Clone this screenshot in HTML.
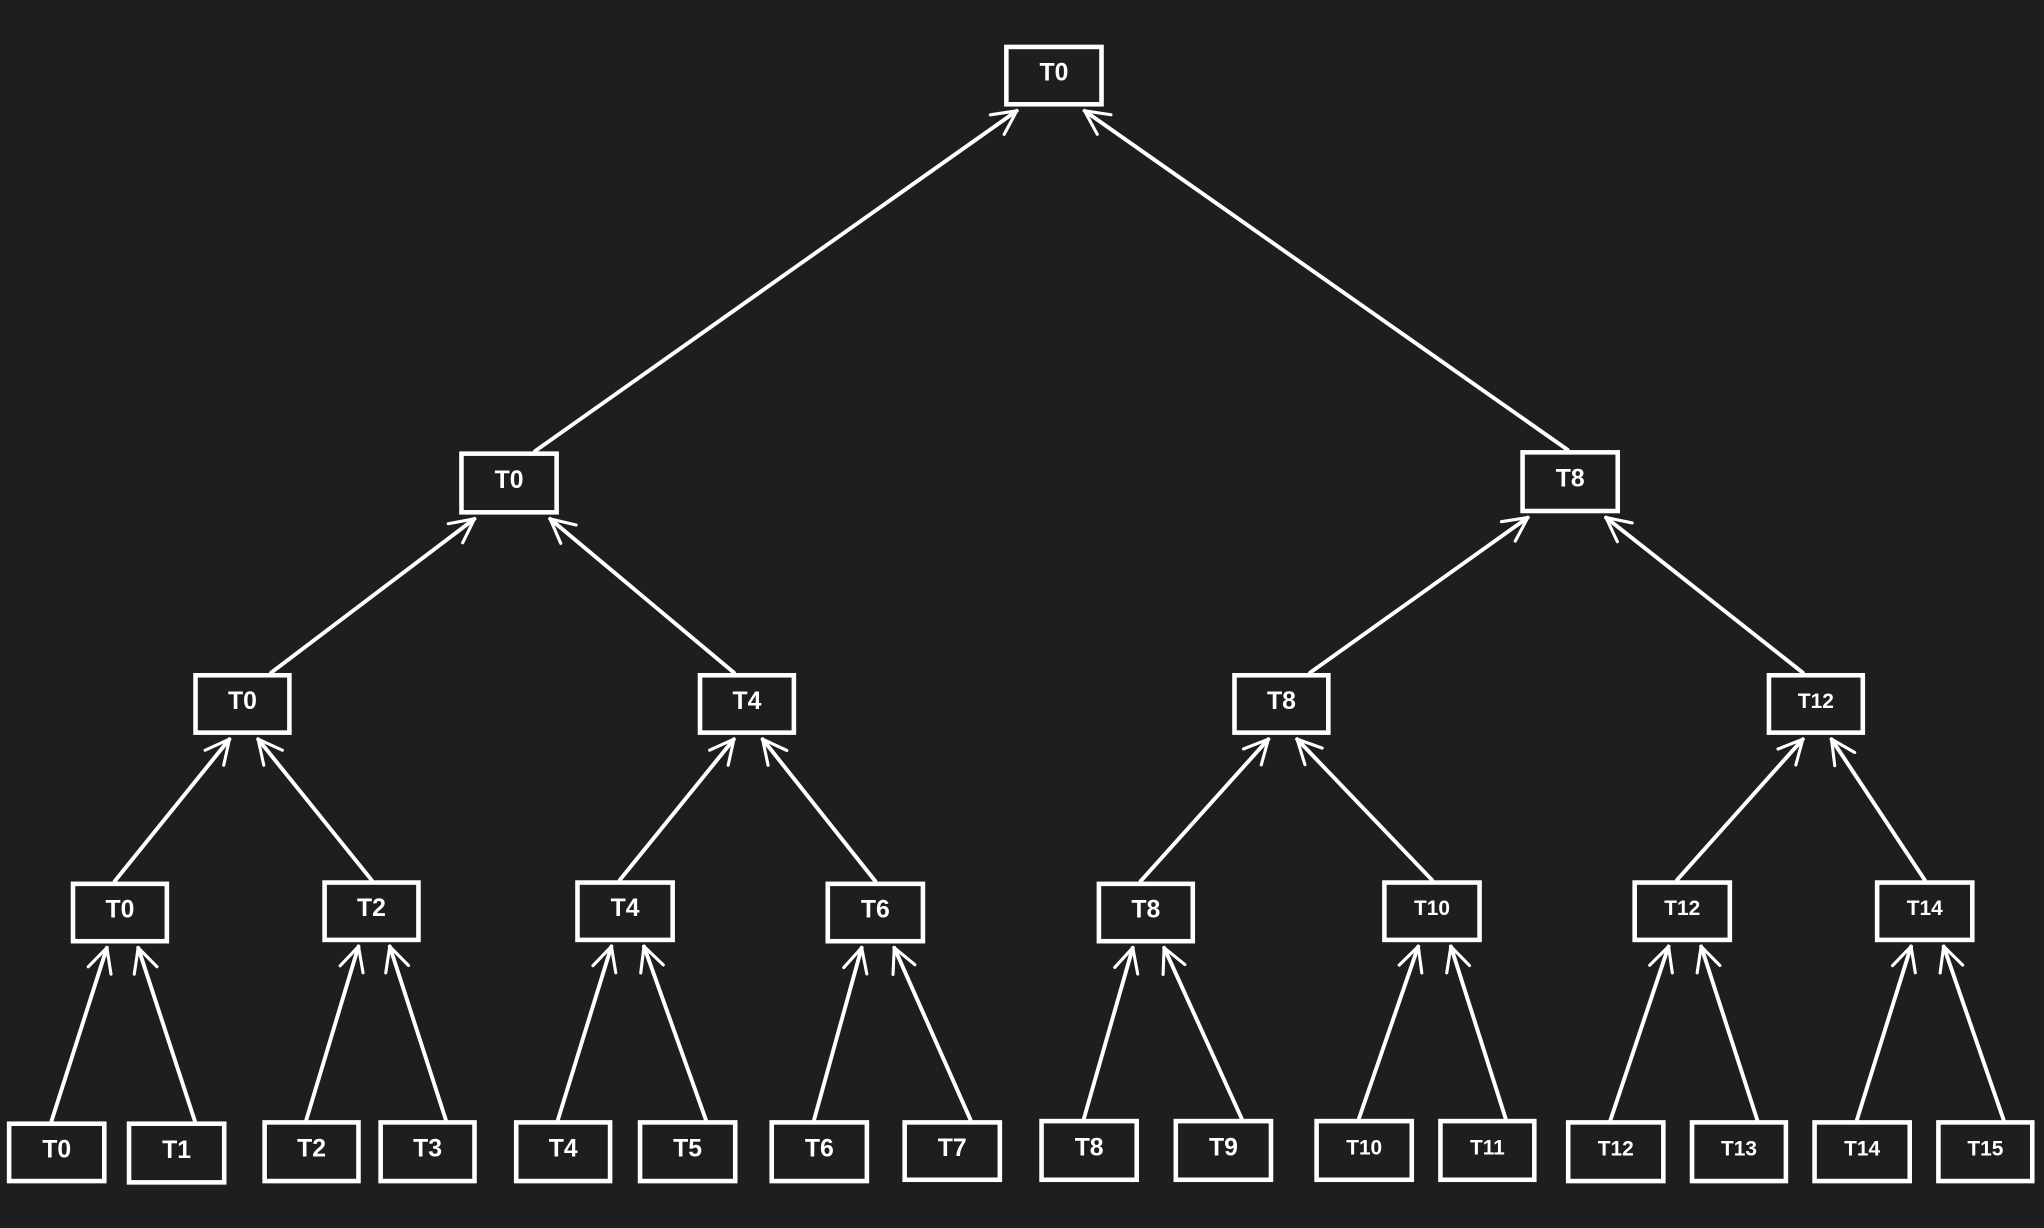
<!DOCTYPE html>
<html><head><meta charset="utf-8"><style>
html,body{margin:0;padding:0;background:#1e1e20;}
svg{display:block}
text{font-family:"Liberation Sans",sans-serif;font-weight:bold;fill:#fff;font-size:19px;text-anchor:middle;dominant-baseline:central}
</style></head><body>
<svg id="s" width="2044" height="1228" viewBox="0 0 1568 942" preserveAspectRatio="none">
<rect width="1568" height="942" fill="#1e1e20"/>
<defs><marker id="a" viewBox="0 0 12 12" refX="11" refY="6" markerWidth="22" markerHeight="22" markerUnits="userSpaceOnUse" orient="auto"><path d="M1,1 L11,6 L1,11" fill="none" stroke="#fff" stroke-width="1.3" stroke-linecap="round" stroke-linejoin="round"/></marker></defs>
<g id="g"></g>
</svg>
<script>
var N={
r:[772,36,845,80,"T0"],
a0:[354,348,427,393,"T0"],a1:[1168,347,1241,392,"T8"],
b0:[150,518,222,562,"T0"],b1:[537,518,609,562,"T4"],b2:[947,518,1019,562,"T8"],b3:[1357,518,1429,562,"T12"],
c0:[56,678,128,722,"T0"],c1:[249,677,321,721,"T2"],c2:[443,677,516,721,"T4"],c3:[635,678,708,722,"T6"],c4:[843,678,915,722,"T8"],c5:[1062,677,1135,721,"T10"],c6:[1254,677,1327,721,"T12"],c7:[1440,677,1513,721,"T14"]
};
var L=[[7,862,80,906],[99,862,172,907],[203,861,275,906],[292,861,364,906],[396,861,468,906],[491,861,564,906],[592,861,665,906],[694,861,767,905],[799,860,872,905],[902,860,975,905],[1010,860,1083,905],[1105,860,1177,905],[1203,861,1276,906],[1298,861,1370,906],[1392,861,1465,906],[1487,861,1559,906]];
L.forEach(function(b,i){b.push("T"+i);N["d"+i]=b;});
var g=document.getElementById("g"),h="";
function edge(c,p,left,lo,ro,so){
 var C=N[c],P=N[p];
 var sx=(C[0]+C[2])/2+so, sy=C[1]-2;
 var ex=left?P[0]+lo:P[2]-ro, ey=P[3]+5;
 h+='<line x1="'+sx+'" y1="'+sy+'" x2="'+ex+'" y2="'+ey+'" stroke="#fff" stroke-width="3" stroke-linecap="round" marker-end="url(#a)"/>';
}
edge("a0","r",1,8,13,20);edge("a1","r",0,8,13,-2);
edge("b0","a0",1,10,5,22);edge("b1","a0",0,10,5,-10);edge("b2","a1",1,4,9,22);edge("b3","a1",0,4,9,-10);
for(var i=0;i<4;i++){edge("c"+(2*i),"b"+i,1,26,24,-4);edge("c"+(2*i+1),"b"+i,0,26,24,0);}
for(var i=0;i<8;i++){edge("d"+(2*i),"c"+i,1,26,22,-4);edge("d"+(2*i+1),"c"+i,0,26,22,14);}
for(var k in N){var b=N[k];
 h+='<rect x="'+b[0]+'" y="'+b[1]+'" width="'+(b[2]-b[0])+'" height="'+(b[3]-b[1])+'" fill="#1e1e20" stroke="#fff" stroke-width="3.5"/>';
 var fs=b[4].length>2?16:19;
 h+='<text x="'+((b[0]+b[2])/2)+'" y="'+((b[1]+b[3])/2-2)+'" style="font-size:'+fs+'px">'+b[4]+'</text>';
}
g.innerHTML=h;
</script>
</body></html>
